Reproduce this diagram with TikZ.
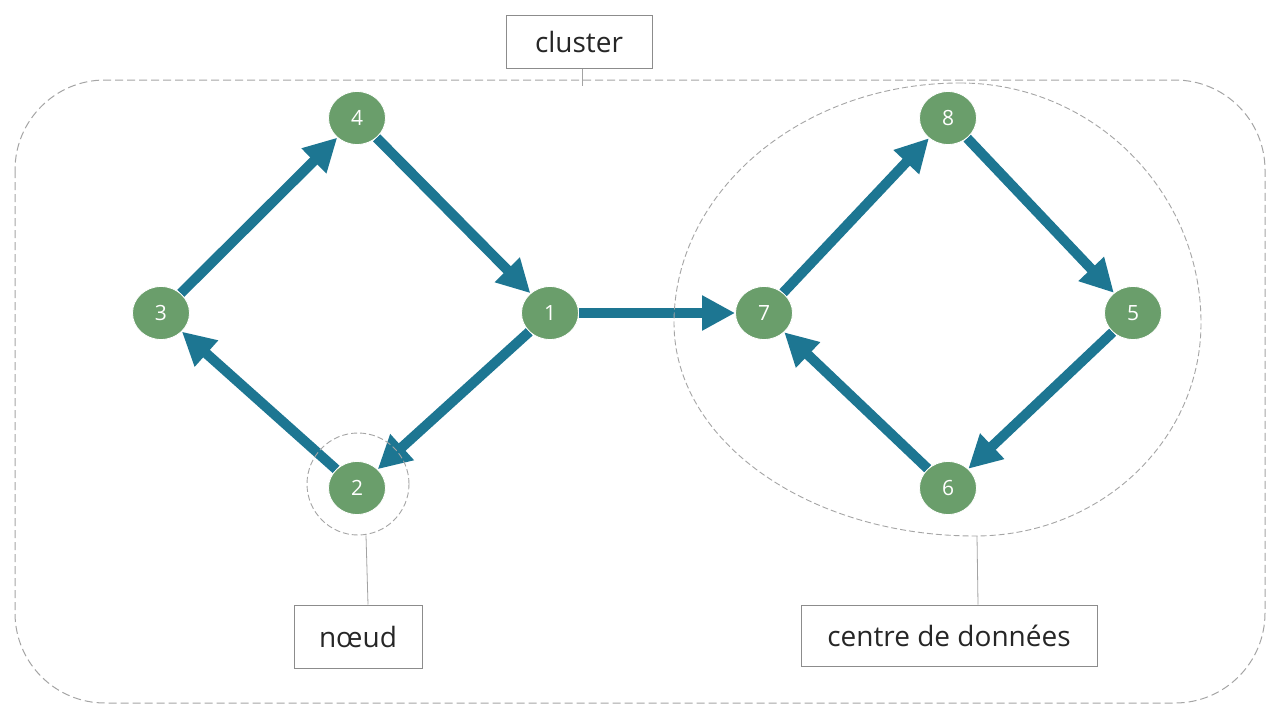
\documentclass[tikz,border=0pt]{standalone}
\usepackage{fontspec}
\setmainfont{Open Sans}
\usetikzlibrary{shapes.geometric,arrows.meta}
\definecolor{nodegreen}{RGB}{106,158,107}
\definecolor{arrowblue}{RGB}{29,118,146}
\definecolor{dashgray}{RGB}{165,165,165}
\definecolor{boxgray}{RGB}{140,140,140}
\definecolor{textgray}{RGB}{38,38,38}
\pgfdeclarelayer{bg}
\pgfsetlayers{bg,main}
\begin{document}
\begin{tikzpicture}[x=1pt,y=-1pt,
  vertex/.style={ellipse, fill=nodegreen, draw=white, line width=0.8pt, minimum width=57pt, minimum height=53pt, inner sep=0pt, text=white, font=\fontsize{21}{25}\selectfont},
  flow/.style={draw=arrowblue, line width=10pt, -{Triangle[length=33pt,width=33pt]}},
  labelbox/.style={draw=boxgray, line width=1pt, fill=white, text=textgray, font=\fontsize{28}{34}\selectfont, inner sep=0pt},
  outline/.style={draw=dashgray, line width=1pt, dash pattern=on 8pt off 4pt},
  thinoutline/.style={draw=dashgray, line width=0.9pt, dash pattern=on 6pt off 3pt},
  leader/.style={draw=boxgray!80, line width=0.8pt}
]
\useasboundingbox (0,0) rectangle (1280,720);

% cluster outline
\draw[outline, rounded corners=90pt] (15,80) rectangle (1265,703);

% data centre outline
\draw[thinoutline] (960,83) .. controls (1093,83) and (1201,191) .. (1201,323)
  .. controls (1201,441) and (1100,536) .. (975,536)
  .. controls (809,536) and (674,441) .. (674,323)
  .. controls (674,191) and (802,83) .. cycle;

% node circle
\node[circle, thinoutline, minimum size=102pt, inner sep=0pt] (ring) at (358,484) {};

% vertices
\node[vertex] (n1) at (550,313) {1};
\node[vertex] (n2) at (357,488) {2};
\node[vertex] (n3) at (161,313) {3};
\node[vertex] (n4) at (357,118) {4};
\node[vertex] (n5) at (1133,313) {5};
\node[vertex] (n6) at (948,488) {6};
\node[vertex] (n7) at (764,313) {7};
\node[vertex] (n8) at (948,118) {8};

\begin{pgfonlayer}{bg}
\fill[white] (0,0) rectangle (1280,720);
\draw[flow] (n3) -- (n4);
\draw[flow] (n4) -- (n1);
\draw[flow] (n1) -- (n2);
\draw[flow] (n2) -- (n3);
\draw[flow] (n1) -- (n7);
\draw[flow] (n7) -- (n8);
\draw[flow] (n8) -- (n5);
\draw[flow] (n5) -- (n6);
\draw[flow] (n6) -- (n7);
\end{pgfonlayer}

% labels
\node[labelbox, minimum width=146pt, minimum height=53pt] (lcluster) at (579,41.5) {cluster};
\node[labelbox, minimum width=128pt, minimum height=63pt] (lnoeud) at (358,636.5) {nœud};
\node[labelbox, minimum width=296pt, minimum height=61pt] (ldc) at (949,635.5) {centre de données};

\coordinate (cltop) at (582,86);
\coordinate (dcbot) at (977,536);
\draw[leader] (lcluster.south -| cltop) -- (cltop);
\draw[leader] (ring.south) ++(8,0) coordinate (ringb) -- (lnoeud.north -| 368,0);
\draw[leader] (dcbot) -- (ldc.north -| 978,0);
\end{tikzpicture}
\end{document}
